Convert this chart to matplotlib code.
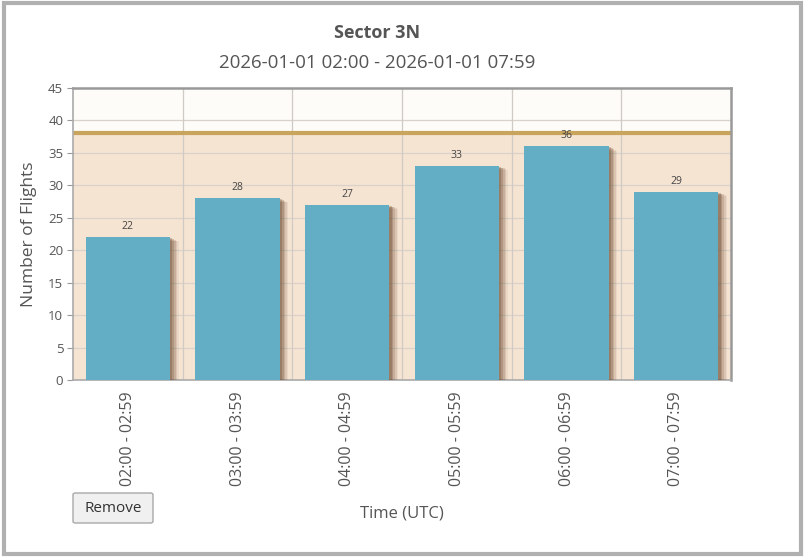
import matplotlib.pyplot as plt
from matplotlib.patches import Rectangle, FancyBboxPatch
import numpy as np

# data
slots = ["02:00 - 02:59", "03:00 - 03:59", "04:00 - 04:59",
         "05:00 - 05:59", "06:00 - 06:59", "07:00 - 07:59"]
flights = [22, 28, 27, 33, 36, 29]
capacity = 38

plt.rcParams['font.family'] = ['Open Sans', 'DejaVu Sans']
txt = "#555555"

fig = plt.figure(figsize=(8.05, 5.57), dpi=100)
W, H = 805, 557

# outer frame
fig.patches.append(Rectangle((4 / W, 3 / H), 797 / W, 551 / H, transform=fig.transFigure,
                             fill=False, edgecolor="#b0b0b0", linewidth=3))

ax = fig.add_axes([73 / W, 1 - 380 / H, (731 - 73) / W, (380 - 88) / H])
x = np.arange(len(slots))
ax.set_xlim(-0.5, len(slots) - 0.5)
ax.set_ylim(0, 45)

# background zones
ax.axhspan(0, capacity, color="#f6e4d2", zorder=0)
ax.axhspan(capacity, 45, color="#fdfcf8", zorder=0)

# grid
for yv in range(5, 45, 5):
    ax.axhline(yv, color="#d9d2ca", linewidth=0.9, zorder=1)
for xv in np.arange(0.5, len(slots) - 0.5, 1):
    ax.axvline(xv, color="#cfcac4", linewidth=0.9, zorder=1)

# capacity line
ax.axhline(capacity, color="#c9a45c", linewidth=3, zorder=2)

# bar shadows
for off, a in [(0.08, 0.08), (0.065, 0.12), (0.05, 0.18), (0.035, 0.25), (0.02, 0.3)]:
    ax.bar(x + off, np.array(flights) - off * 8, width=0.77, bottom=0,
           color="#6b4a30", alpha=a, linewidth=0, zorder=3)
ax.bar(x, flights, width=0.77, color="#64aec5", linewidth=0, zorder=4)

for xi, v in zip(x, flights):
    ax.text(xi, v + 0.8, str(v), ha="center", va="bottom", fontsize=7.5,
            color="#444444", zorder=5)

ax.set_yticks(range(0, 46, 5))
ax.set_xticks(x)
ax.set_xticklabels(slots, rotation=90, fontsize=11.5, color=txt)
ax.tick_params(axis="y", labelsize=9.5, colors=txt, length=4, color="#999999", pad=3)
ax.tick_params(axis="x", length=0, pad=8)

for side in ["top", "right"]:
    ax.spines[side].set_color("#999999")
    ax.spines[side].set_linewidth(1.8)
for side in ["left", "bottom"]:
    ax.spines[side].set_color("#aaaaaa")
    ax.spines[side].set_linewidth(1.2)

ax.set_ylabel("Number of Flights", fontsize=12.5, color=txt, labelpad=8)

fig.text(377 / W, 1 - 33 / H, "Sector 3N", ha="center", va="center",
         fontsize=13, fontweight="bold", color=txt)
fig.text(377 / W, 1 - 63 / H, "2026-01-01 02:00 - 2026-01-01 07:59", ha="center",
         va="center", fontsize=13.5, color=txt)
fig.text(402 / W, 1 - 513 / H, "Time (UTC)", ha="center", va="center",
         fontsize=12, color=txt)

# remove button
fig.patches.append(FancyBboxPatch((73 / W, 1 - 523 / H), 80 / W, 30 / H,
                                  boxstyle="round,pad=0,rounding_size=0.003",
                                  transform=fig.transFigure, facecolor="#f0f0f0",
                                  edgecolor="#a8a8a8", linewidth=1))
fig.text(113 / W, 1 - 508 / H, "Remove", ha="center", va="center",
         fontsize=11, color="#333333")

fig.savefig("out.png", dpi=100)
